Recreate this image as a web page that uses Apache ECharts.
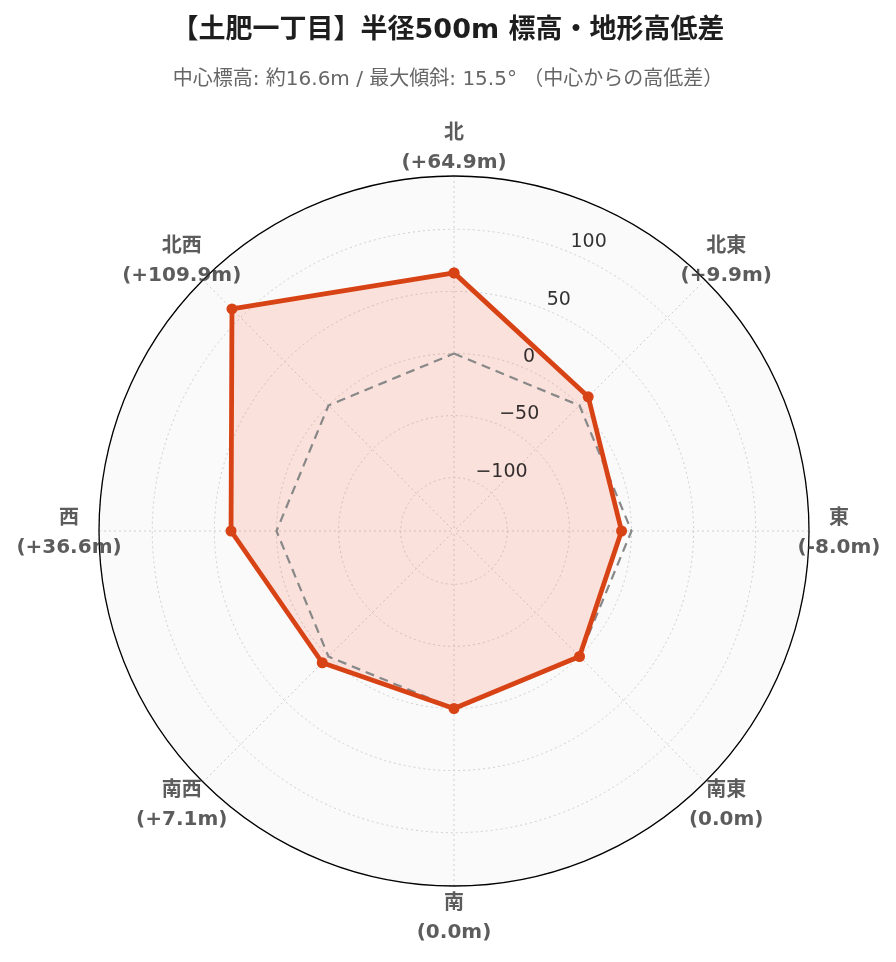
<!DOCTYPE html>
<html>
<head>
<meta charset="utf-8">
<script src="https://cdn.jsdelivr.net/npm/echarts@6/dist/echarts.min.js"></script>
<style>
html,body{margin:0;padding:0;background:#fff;}
#chart{width:896px;height:962px;}
</style>
</head>
<body>
<div id="chart"></div>
<script>
// ---- data ----
const directions = ['北', '北東', '東', '南東', '南', '南西', '西', '北西'];
const elevationDiff = [64.9, 9.9, -8.0, 0.0, 0.0, 7.1, 36.6, 109.9];
const referenceLevel = [0, 0, 0, 0, 0, 0, 0, 0];
const radialTicks = [-100, -50, 0, 50, 100];
const radialRange = [-142.9, 142.9];
const titleText = '【土肥一丁目】半径500m 標高・地形高低差';
const subtitleText = '中心標高: 約16.6m / 最大傾斜: 15.5° （中心からの高低差）';

// ---- chart ----
const FONT = '"DejaVu Sans", "Noto Sans CJK JP", sans-serif';
const chart = echarts.init(document.getElementById('chart'), null, {renderer: 'canvas'});
const step = 360 / directions.length;
const angleOf = i => i * step;
const closed = arr => arr.map((v, i) => [v, angleOf(i)]).concat([[arr[0], 360]]);
const fmtDiff = v => (v > 0 ? '+' : '') + v.toFixed(1);
const LABEL_GAP = 30;
const CENTER = [454, 531];
const RADIUS = 355;
const GRID = {color: '#cfcfcf', type: [2, 3], width: 1};

const option = {
  backgroundColor: '#ffffff',
  textStyle: {fontFamily: FONT},
  title: {
    text: titleText,
    subtext: subtitleText,
    left: 'center',
    top: 11,
    itemGap: 23,
    textStyle: {fontFamily: FONT, fontSize: 27, fontWeight: 'bold', color: '#1e1e1e', lineHeight: 30},
    subtextStyle: {fontFamily: FONT, fontSize: 20, color: '#666', lineHeight: 22}
  },
  polar: [
    {center: CENTER, radius: RADIUS},
    {center: CENTER, radius: RADIUS}
  ],
  angleAxis: [
    {
      polarIndex: 0, type: 'value', min: 0, max: 360, interval: 45,
      startAngle: 90, clockwise: true, z: 0,
      axisLine: {show: false}, axisTick: {show: false}, axisLabel: {show: false},
      splitLine: {show: false}
    },
    {
      polarIndex: 1, type: 'value', min: 0, max: 360, interval: 45,
      startAngle: 90, clockwise: true, z: 1,
      axisLine: {show: true, lineStyle: {color: '#000', width: 1.3}},
      axisTick: {show: false},
      axisLabel: {show: false},
      splitLine: {show: true, lineStyle: GRID}
    }
  ],
  radiusAxis: [
    {
      polarIndex: 0, type: 'value', min: radialRange[0], max: radialRange[1], z: 0,
      axisLine: {show: false}, axisTick: {show: false}, axisLabel: {show: false},
      splitLine: {show: false},
      splitArea: {show: true, areaStyle: {color: ['#fafafa']}}
    },
    {
      polarIndex: 1, type: 'value', min: radialRange[0], max: radialRange[1], z: 1,
      axisLine: {show: false}, axisTick: {show: false}, axisLabel: {show: false},
      splitLine: {show: true, lineStyle: GRID}
    }
  ],
  series: [
    {
      type: 'line', coordinateSystem: 'polar', polarIndex: 1, name: 'area',
      data: closed(elevationDiff),
      symbol: 'none', silent: true, z: 2,
      lineStyle: {width: 0, opacity: 0},
      areaStyle: {color: 'rgba(255,80,40,0.2)', origin: 'start'}
    },
    {
      type: 'line', coordinateSystem: 'polar', polarIndex: 1, name: 'ref',
      data: closed(referenceLevel),
      symbol: 'none', silent: true, z: 3,
      lineStyle: {color: '#888', width: 2.2, type: [9, 6]}
    },
    {
      type: 'line', coordinateSystem: 'polar', polarIndex: 1, name: '高低差',
      data: closed(elevationDiff),
      symbol: 'circle', symbolSize: 11, z: 4,
      itemStyle: {color: '#D84315'},
      lineStyle: {color: '#D84315', width: 4.8}
    },
    {
      type: 'scatter', coordinateSystem: 'polar', polarIndex: 1, name: 'ticks',
      data: radialTicks.map(v => [v, 22.5]),
      symbolSize: 0, clip: false, silent: true, z: 5,
      label: {
        show: true, position: [1, -10], align: 'left', verticalAlign: 'middle',
        fontFamily: FONT, fontSize: 19, color: '#000',
        formatter: p => (p.value[0] < 0 ? '\u2212' + Math.abs(p.value[0]) : String(p.value[0]))
      }
    },
    {
      type: 'scatter', coordinateSystem: 'polar', polarIndex: 1, name: 'dirs',
      data: directions.map((d, i) => {
        const a = angleOf(i) * Math.PI / 180;
        return {
          value: [radialRange[1], angleOf(i)],
          label: {offset: [LABEL_GAP * Math.sin(a), -LABEL_GAP * Math.cos(a) + 2.5]}
        };
      }),
      symbolSize: 0, clip: false, silent: true, z: 5,
      label: {
        show: true, position: 'inside', align: 'center', verticalAlign: 'middle',
        fontFamily: FONT, fontSize: 20, fontWeight: 'bold', color: '#333', lineHeight: 29,
        formatter: p => directions[p.dataIndex] + '\n(' + fmtDiff(elevationDiff[p.dataIndex]) + 'm)'
      }
    }
  ]
};
chart.setOption(option);
</script>
</body>
</html>
